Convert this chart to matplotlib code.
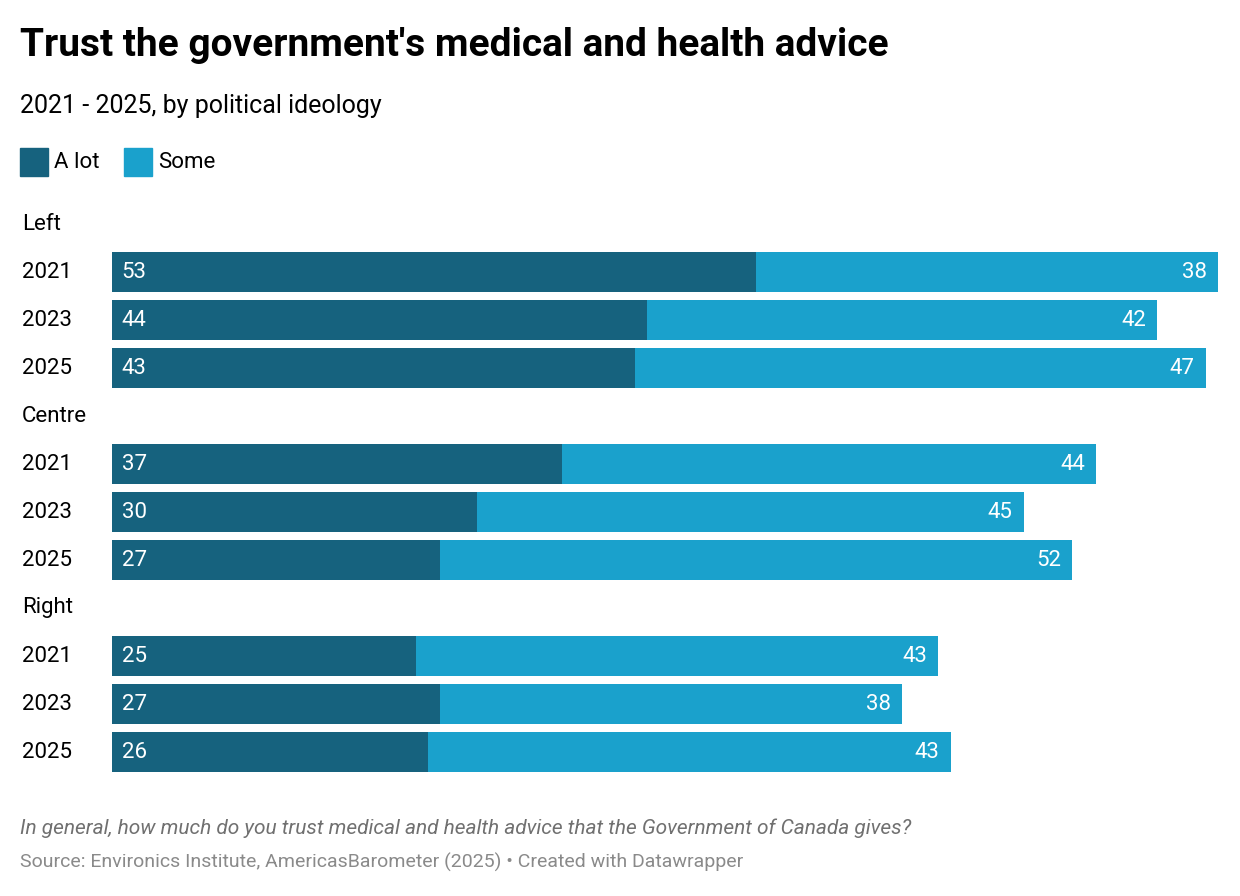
import matplotlib.pyplot as plt
from matplotlib.patches import Rectangle

plt.rcParams['font.family'] = ['Roboto', 'DejaVu Sans']

groups = ["Left", "Centre", "Right"]
years = ["2021", "2023", "2025"]
a_lot = [[53, 44, 43], [37, 30, 27], [25, 27, 26]]
some = [[38, 42, 47], [44, 45, 52], [43, 38, 43]]

dark = "#16627e"
light = "#1aa1cc"

W, H = 1240, 896
fig = plt.figure(figsize=(W / 100, H / 100), dpi=100)

# bar area: x=0 at px 112, x=91 at px 1218; rows 48 px apart from y=200 to 776
ax = fig.add_axes([112 / W, 1 - 776 / H, 1106 / W, 576 / H])
ax.set_xlim(0, 91)
ax.set_ylim(11.5, -0.5)
ax.axis("off")

row = 0
for g, name in enumerate(groups):
    ax.text(-90 / 12.15, row, name, ha="left", va="center", fontsize=16)
    row += 1
    for i, yr in enumerate(years):
        a, s = a_lot[g][i], some[g][i]
        ax.barh(row, a, height=0.83, color=dark)
        ax.barh(row, s, left=a, height=0.83, color=light)
        ax.text(-90 / 12.15, row, yr, ha="left", va="center", fontsize=16)
        ax.text(0.8, row, str(a), ha="left", va="center", fontsize=16, color="white")
        ax.text(a + s - 0.9, row, str(s), ha="right", va="center", fontsize=16, color="white")
        row += 1

fig.text(20 / W, 1 - 46 / H, "Trust the government's medical and health advice",
         fontsize=28, fontweight="bold", va="center")
fig.text(20 / W, 1 - 106 / H, "2021 - 2025, by political ideology", fontsize=18, va="center")

# legend
for x0, col, lab in [(20, dark, "A lot"), (124, light, "Some")]:
    fig.patches.append(Rectangle((x0 / W, 1 - 176 / H), 28 / W, 28 / H,
                                 transform=fig.transFigure, color=col))
    fig.text((x0 + 34) / W, 1 - 162 / H, lab, fontsize=16, va="center")

fig.text(20 / W, 1 - 828 / H,
         "In general, how much do you trust medical and health advice that the Government of Canada gives?",
         fontsize=15, style="italic", color="#707070", va="center")
fig.text(20 / W, 1 - 862 / H,
         "Source: Environics Institute, AmericasBarometer (2025) \u2022 Created with Datawrapper",
         fontsize=14, color="#8a8a8a", va="center")

fig.savefig("out.png", dpi=100, facecolor="white")
